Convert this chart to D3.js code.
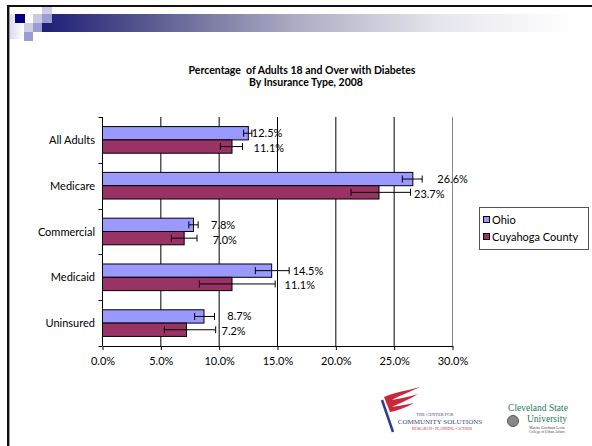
<!DOCTYPE html>
<html><head><meta charset="utf-8">
<script src="https://cdn.jsdelivr.net/npm/d3@7/dist/d3.min.js"></script>
<style>
body{margin:0;background:#fff;}
svg{display:block;font-family:Lato,"Open Sans",sans-serif;}
</style></head>
<body>
<script>
// ---- data ----
const categories = ["All Adults","Medicare","Commercial","Medicaid","Uninsured"];
const seriesNames = ["Ohio","Cuyahoga County"];
const ohio = [12.5, 26.6, 7.8, 14.5, 8.7];
const cuyahoga = [11.1, 23.7, 7.0, 11.1, 7.2];
const ohioLow = [12.1, 25.7, 7.4, 13.1, 7.9];
const ohioHigh = [12.8, 27.4, 8.2, 16.0, 9.6];
const cuyLow = [10.1, 21.3, 5.9, 8.3, 5.3];
const cuyHigh = [12.0, 26.4, 8.1, 14.8, 9.7];
const ohioLabelAt = [12.8, 28.7, 9.3, 16.3, 10.7];
const cuyLabelAt = [12.95, 26.7, 9.45, 15.6, 10.2];
const xTicks = [0,5,10,15,20,25,30];
const title1 = "Percentage  of Adults 18 and Over with Diabetes";
const title2 = "By Insurance Type, 2008";

const W=592,H=446;
const svg=d3.select("body").append("svg").attr("width",W).attr("height",H);

// ---- slide decoration ----
const defs=svg.append("defs");
const g1=defs.append("linearGradient").attr("id","band").attr("x1",0).attr("x2",1).attr("y1",0).attr("y2",0);
[[0,"#1e1e78"],[0.2,"#595990"],[0.48,"#adadc5"],[0.75,"#e6e6ee"],[1,"#ffffff"]].forEach(s=>g1.append("stop").attr("offset",s[0]).attr("stop-color",s[1]));
const g2=defs.append("linearGradient").attr("id","fade").attr("x1",0).attr("x2",1).attr("y1",0).attr("y2",0);
g2.append("stop").attr("offset",0).attr("stop-color","#d8d8ec");
g2.append("stop").attr("offset",1).attr("stop-color","#ffffff");

svg.append("rect").attr("x",42).attr("y",14).attr("width",532).attr("height",18).attr("fill","url(#band)");
svg.append("rect").attr("x",9).attr("y",14).attr("width",15).attr("height",25).attr("fill","url(#fade)");
const sq=[[15,14,10,9,"#000080"],[33,14,9,9,"#c9c9e6"],[42,7,10,7,"#cdcde7"],[42,14,10,9,"#9c9cd0"],[24,23,9,9,"#cdcde7"],[33,23,9,9,"#9c9cd0"],[24,32,9,9,"#9c9cd0"]];
sq.forEach(s=>svg.append("rect").attr("x",s[0]).attr("y",s[1]).attr("width",s[2]).attr("height",s[3]).attr("fill",s[4]));
svg.append("rect").attr("x",7).attr("y",5).attr("width",585).attr("height",2).attr("fill","#111");
svg.append("rect").attr("x",7).attr("y",5).attr("width",2).attr("height",441).attr("fill","#111");
svg.append("rect").attr("x",9).attr("y",7).attr("width",1).attr("height",439).attr("fill","#999");

// ---- title ----
svg.append("text").attr("x",302).attr("y",74).attr("text-anchor","middle").attr("font-size",10.5).attr("font-weight","bold").attr("xml:space","preserve").text(title1);
svg.append("text").attr("x",306).attr("y",86).attr("text-anchor","middle").attr("font-size",10.5).attr("font-weight","bold").text(title2);

// ---- scales ----
const x=d3.scaleLinear().domain([0,30]).range([102.5,452.5]);
const y=d3.scaleBand().domain(categories).range([117,346]).padding(0);
const sub=d3.scaleBand().domain(seriesNames).range([0,y.bandwidth()]).paddingInner(0).paddingOuter(0.72);
const colors={"Ohio":"#9999ff","Cuyahoga County":"#993366"};

const plot=svg.append("g");
plot.selectAll("line.grid").data(xTicks.slice(1)).join("line").attr("class","grid")
  .attr("x1",d=>x(d)).attr("x2",d=>x(d)).attr("y1",117).attr("y2",346)
  .attr("stroke",d=>d===30?"#888":"#000").attr("stroke-width",1);

// bottom axis
const xAxis=d3.axisBottom(x).tickValues(xTicks).tickFormat(d=>d.toFixed(1)+"%").tickSize(4).tickSizeOuter(0);
const gx=svg.append("g").attr("transform","translate(0,346)").call(xAxis);
gx.attr("font-family",null).attr("font-size",null);
gx.select(".domain").attr("stroke","#000");
gx.selectAll(".tick line").attr("stroke","#000");
gx.selectAll("text").attr("font-size",11).attr("fill","#000").attr("dy","1.1em");

// left axis
svg.append("line").attr("x1",102.5).attr("x2",102.5).attr("y1",117).attr("y2",346).attr("stroke","#000");
const bounds=categories.map(c=>y(c)).concat([346]);
svg.selectAll("line.ytick").data(bounds).join("line").attr("class","ytick")
  .attr("x1",98.5).attr("x2",102.5).attr("y1",d=>Math.round(d)+0.5).attr("y2",d=>Math.round(d)+0.5).attr("stroke","#000");
svg.selectAll("text.cat").data(categories).join("text").attr("class","cat")
  .attr("x",95).attr("y",d=>y(d)+y.bandwidth()/2+4).attr("text-anchor","end").attr("font-size",11).text(d=>d);

// bars
const rows=categories.map((c,i)=>[
  {cat:c,s:"Ohio",v:ohio[i],lo:ohioLow[i],hi:ohioHigh[i],lab:ohioLabelAt[i]},
  {cat:c,s:"Cuyahoga County",v:cuyahoga[i],lo:cuyLow[i],hi:cuyHigh[i],lab:cuyLabelAt[i]}
]).flat();
const by=d=>y(d.cat)+sub(d.s);
svg.selectAll("rect.bar").data(rows).join("rect").attr("class","bar")
  .attr("x",x(0)).attr("y",by).attr("width",d=>x(d.v)-x(0)).attr("height",sub.bandwidth())
  .attr("fill",d=>colors[d.s]).attr("stroke","#000").attr("stroke-width",1);

// error bars
const eb=svg.selectAll("g.eb").data(rows).join("g").attr("class","eb");
const cy=d=>by(d)+sub.bandwidth()/2;
eb.append("line").attr("x1",d=>x(d.lo)).attr("x2",d=>x(d.hi)).attr("y1",cy).attr("y2",cy).attr("stroke","#000");
eb.append("line").attr("x1",d=>x(d.lo)).attr("x2",d=>x(d.lo)).attr("y1",d=>cy(d)-3.5).attr("y2",d=>cy(d)+3.5).attr("stroke","#000");
eb.append("line").attr("x1",d=>x(d.hi)).attr("x2",d=>x(d.hi)).attr("y1",d=>cy(d)-3.5).attr("y2",d=>cy(d)+3.5).attr("stroke","#000");

// data labels
svg.selectAll("text.lab").data(rows).join("text").attr("class","lab")
  .attr("x",d=>x(d.lab)).attr("y",d=>cy(d)+4+(d.s==="Ohio"?0:1.5))
  .attr("font-size",11).text(d=>d.v.toFixed(1)+"%");

// legend
const lg=svg.append("g");
lg.append("rect").attr("x",479.5).attr("y",207.5).attr("width",109).attr("height",42).attr("fill","#fff").attr("stroke","#555");
seriesNames.forEach((s,i)=>{
  lg.append("rect").attr("x",483.5).attr("y",216.5+i*17).attr("width",6).attr("height",6).attr("fill",colors[s]).attr("stroke","#000");
  lg.append("text").attr("x",492).attr("y",224+i*17).attr("font-size",11).text(s);
});

// logos
const lo=svg.append("g").attr("font-family","Liberation Serif");
lo.append("line").attr("x1",382).attr("y1",400).attr("x2",393).attr("y2",432).attr("stroke","#2a3f8f").attr("stroke-width",2.5);
lo.append("path").attr("d","M384,397 C395,392 410,390 420,387 C410,392 398,396 392,400 C403,398 412,396 418,394 C408,400 398,404 392,407 C400,406 408,404 414,403 C405,408 396,411 390,412 Z").attr("fill","#c8283a");
lo.append("text").attr("x",435).attr("y",416).attr("text-anchor","middle").attr("font-size",4.5).attr("fill","#3a4a8a").text("THE CENTER FOR");
lo.append("text").attr("x",440).attr("y",424).attr("text-anchor","middle").attr("font-size",7).attr("fill","#3a4a8a").text("COMMUNITY SOLUTIONS");
lo.append("text").attr("x",442).attr("y",430).attr("text-anchor","middle").attr("font-size",3.8).attr("fill","#c8283a").text("RESEARCH • PLANNING • ACTION");
lo.append("text").attr("x",538).attr("y",411).attr("text-anchor","middle").attr("font-size",9.5).attr("fill","#1f7a55").text("Cleveland State");
lo.append("text").attr("x",547).attr("y",421.5).attr("text-anchor","middle").attr("font-size",9.5).attr("fill","#1f7a55").text("University");
lo.append("circle").attr("cx",513).attr("cy",421).attr("r",5.5).attr("fill","#888").attr("stroke","#555");
lo.append("text").attr("x",547).attr("y",428.5).attr("text-anchor","middle").attr("font-size",3.6).attr("fill","#444").text("Maxine Goodman Levin");
lo.append("text").attr("x",547).attr("y",433).attr("text-anchor","middle").attr("font-size",3.6).attr("fill","#444").text("College of Urban Affairs");
</script>
</body></html>
